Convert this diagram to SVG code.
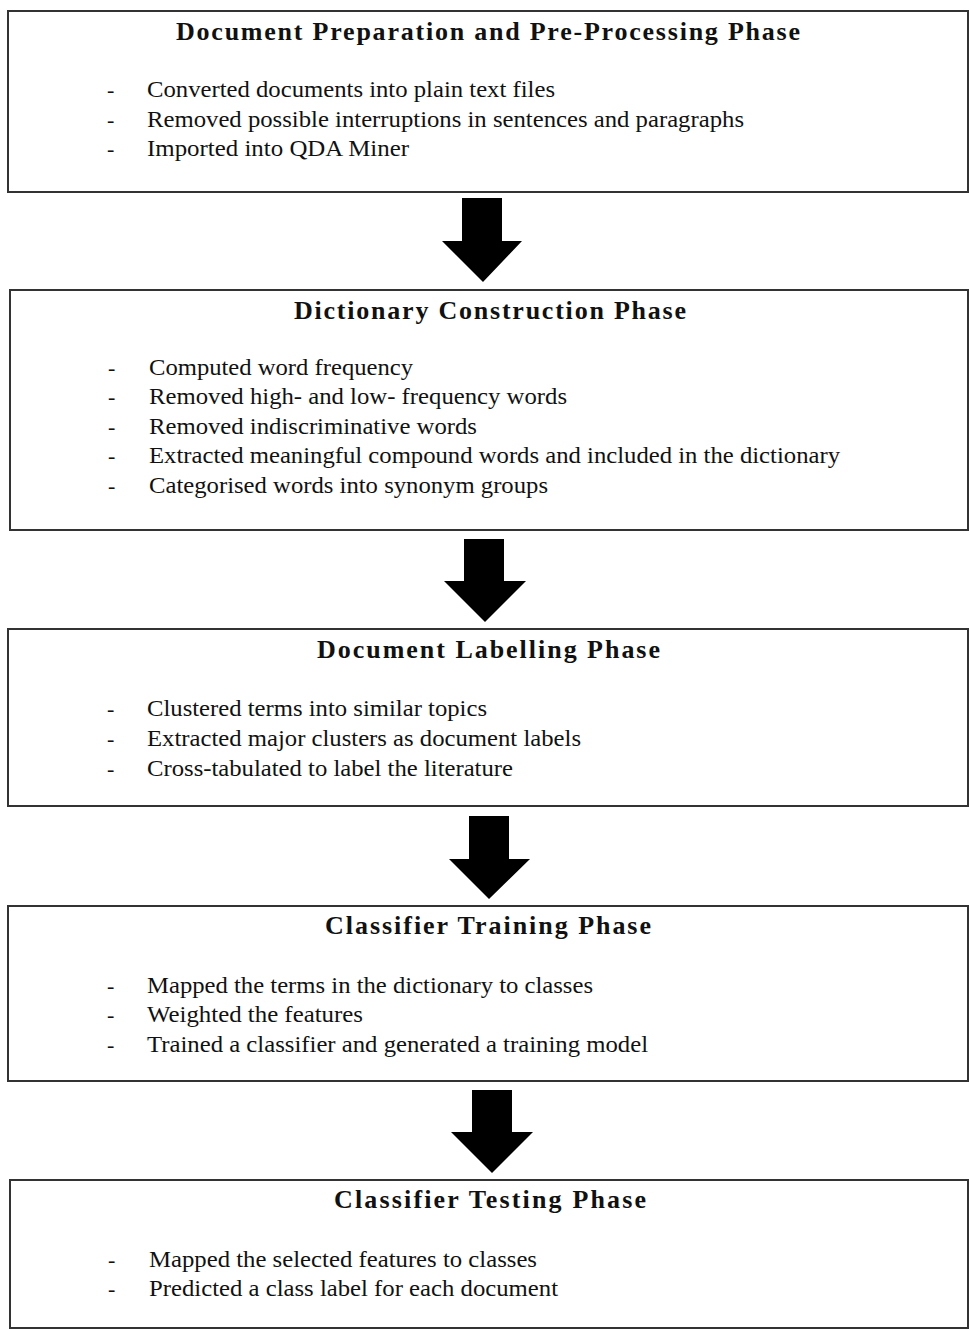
<svg xmlns="http://www.w3.org/2000/svg" width="970" height="1330" viewBox="0 0 970 1330">
<style>
.box{fill:#fff;stroke:#333;stroke-width:2}
.t{font-family:"Liberation Serif","Times New Roman",serif;font-weight:bold;font-size:26px;fill:#111}
.b{font-family:"Liberation Serif","Times New Roman",serif;font-size:23.5px;fill:#111}
.d{font-family:"Liberation Serif","Times New Roman",serif;font-size:22px;fill:#111}
.arr{fill:#000}
</style>
<rect width="970" height="1330" fill="#fff"/>
<g id="connectors">
<polygon class="arr" points="462,198 502,198 502,241 522,241 483,282 442,241 462,241"/>
<polygon class="arr" points="464,539 504,539 504,581 526,581 485,622 444,581 464,581"/>
<polygon class="arr" points="469,816 509,816 509,859 530,859 489,899 449,859 469,859"/>
<polygon class="arr" points="472,1090 512,1090 512,1132 533,1132 492,1173 451,1132 472,1132"/>
</g>
<g id="node1">
<rect class="box" x="8" y="11" width="960" height="181"/>
<text class="t" x="176" y="40" textLength="624" lengthAdjust="spacing">Document Preparation and Pre-Processing Phase</text>
<text class="d" x="107" y="97">-</text><text class="b" x="147" y="97" textLength="408" lengthAdjust="spacingAndGlyphs">Converted documents into plain text files</text>
<text class="d" x="107" y="127">-</text><text class="b" x="147" y="127" textLength="597" lengthAdjust="spacingAndGlyphs">Removed possible interruptions in sentences and paragraphs</text>
<text class="d" x="107" y="156">-</text><text class="b" x="147" y="156" textLength="262" lengthAdjust="spacingAndGlyphs">Imported into QDA Miner</text>
</g>
<g id="node2">
<rect class="box" x="10" y="290" width="958" height="240"/>
<text class="t" x="294" y="319" textLength="392" lengthAdjust="spacing">Dictionary Construction Phase</text>
<text class="d" x="108" y="375">-</text><text class="b" x="149" y="375" textLength="264" lengthAdjust="spacingAndGlyphs">Computed word frequency</text>
<text class="d" x="108" y="404">-</text><text class="b" x="149" y="404" textLength="418" lengthAdjust="spacingAndGlyphs">Removed high- and low- frequency words</text>
<text class="d" x="108" y="434">-</text><text class="b" x="149" y="434" textLength="328" lengthAdjust="spacingAndGlyphs">Removed indiscriminative words</text>
<text class="d" x="108" y="463">-</text><text class="b" x="149" y="463" textLength="691" lengthAdjust="spacingAndGlyphs">Extracted meaningful compound words and included in the dictionary</text>
<text class="d" x="108" y="493">-</text><text class="b" x="149" y="493" textLength="399" lengthAdjust="spacingAndGlyphs">Categorised words into synonym groups</text>
</g>
<g id="node3">
<rect class="box" x="8" y="629" width="960" height="177"/>
<text class="t" x="317" y="658" textLength="343" lengthAdjust="spacing">Document Labelling Phase</text>
<text class="d" x="107" y="716">-</text><text class="b" x="147" y="716" textLength="340" lengthAdjust="spacingAndGlyphs">Clustered terms into similar topics</text>
<text class="d" x="107" y="746">-</text><text class="b" x="147" y="746" textLength="434" lengthAdjust="spacingAndGlyphs">Extracted major clusters as document labels</text>
<text class="d" x="107" y="776">-</text><text class="b" x="147" y="776" textLength="366" lengthAdjust="spacingAndGlyphs">Cross-tabulated to label the literature</text>
</g>
<g id="node4">
<rect class="box" x="8" y="906" width="960" height="175"/>
<text class="t" x="325" y="934" textLength="326" lengthAdjust="spacing">Classifier Training Phase</text>
<text class="d" x="107" y="993">-</text><text class="b" x="147" y="993" textLength="446" lengthAdjust="spacingAndGlyphs">Mapped the terms in the dictionary to classes</text>
<text class="d" x="107" y="1022">-</text><text class="b" x="147" y="1022" textLength="216" lengthAdjust="spacingAndGlyphs">Weighted the features</text>
<text class="d" x="107" y="1052">-</text><text class="b" x="147" y="1052" textLength="501" lengthAdjust="spacingAndGlyphs">Trained a classifier and generated a training model</text>
</g>
<g id="node5">
<rect class="box" x="10" y="1180" width="958" height="148"/>
<text class="t" x="334" y="1208" textLength="312" lengthAdjust="spacing">Classifier Testing Phase</text>
<text class="d" x="108" y="1267">-</text><text class="b" x="149" y="1267" textLength="388" lengthAdjust="spacingAndGlyphs">Mapped the selected features to classes</text>
<text class="d" x="108" y="1296">-</text><text class="b" x="149" y="1296" textLength="409" lengthAdjust="spacingAndGlyphs">Predicted a class label for each document</text>
</g>
</svg>
